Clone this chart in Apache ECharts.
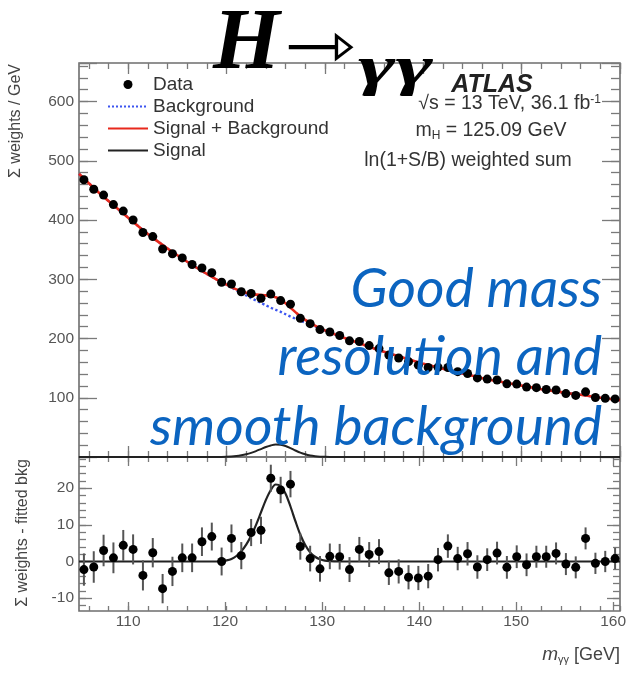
<!DOCTYPE html>
<html>
<head>
<meta charset="utf-8">
<script src="https://cdn.jsdelivr.net/npm/echarts@6/dist/echarts.min.js"></script>
<style>
html,body{margin:0;padding:0;background:#fff;}
#chart{width:629px;height:697px;}
</style>
</head>
<body>
<div id="chart"></div>
<script>
// ---------------- data ----------------
const binCenters = [105.5,106.5,107.5,108.5,109.5,110.5,111.5,112.5,113.5,114.5,
  115.5,116.5,117.5,118.5,119.5,120.5,121.5,122.5,123.5,124.5,
  125.5,126.5,127.5,128.5,129.5,130.5,131.5,132.5,133.5,134.5,
  135.5,136.5,137.5,138.5,139.5,140.5,141.5,142.5,143.5,144.5,
  145.5,146.5,147.5,148.5,149.5,150.5,151.5,152.5,153.5,154.5,
  155.5,156.5,157.5,158.5,159.5];

const dataWeights = [468,452,442,426,415,400,379,372,351,343,
  336,325,319,311,295,292,279,276,268,275,
  264,258,234,225,215,211,205,196,195,188,
  183,172,167,161,155,151,151.5,151,144,141,
  133.5,131.5,130,123.5,123,118,117,114,113,107,
  104,110,100.5,99,98];

const residuals = [-2.2,-1.5,3.0,1.0,4.4,3.3,-3.8,2.4,-7.4,-2.7,
  1.0,1.0,5.4,6.8,0.0,6.3,1.6,7.9,8.5,22.7,
  19.5,21.1,4.1,0.8,-2.0,1.4,1.3,-2.2,3.3,1.9,
  2.7,-3.1,-2.7,-4.3,-4.5,-4.0,0.5,4.2,0.8,2.1,
  -1.5,0.5,2.3,-1.6,1.3,-0.9,1.3,1.3,2.2,-0.7,
  -1.6,6.3,-0.5,0.0,0.8];

const residualErrors = [4.4,4.3,4.3,4.2,4.2,4.1,4.1,4.0,4.0,4.0,
  3.9,3.9,3.9,3.8,3.8,3.8,3.7,3.7,3.7,3.7,
  3.6,3.6,3.6,3.5,3.5,3.5,3.5,3.4,3.4,3.4,
  3.4,3.3,3.3,3.3,3.3,3.3,3.2,3.2,3.2,3.2,
  3.2,3.1,3.1,3.1,3.1,3.1,3.0,3.0,3.0,3.0,
  3.0,3.0,2.9,2.9,2.9];

const curveMass = [105,106,107,108,109,110,111,112,113,114,115,116,117,118,
  119,119.5,120,120.5,121,121.5,122,122.5,123,123.5,124,124.5,125,125.5,
  126,126.5,127,127.5,128,128.5,129,129.5,130,130.5,131,
  132,133,134,135,136,137,138,139,140,141,142,143,144,145,146,
  147,148,149,150,151,152,153,154,155,156,157,158,159,160];

const background = [478,462,446.5,432,418,404,390,376.5,364,352,340.5,329.5,319,309,
  299.5,295,290.5,286,281.5,277,272.5,268,264,260,256,252,248.5,245,
  241,237,233.5,230,227,224,220.5,217,213.5,210,207,
  201,195,189,183,177.5,172.5,167.5,162.5,157.5,153,149,145,141,137,133,
  129.5,126.5,123.5,120.5,117.5,114.5,112,109.5,107,105,102.5,100,98,96];

const signalPlusBackground = [478,462,446.5,432,418,404,390,376.5,364,352,340.5,329.5,319,309,
  299.5,295.1,290.8,286.7,283,279.8,277.1,275,274,273.4,272.8,271.5,269.5,265.6,
  259.5,252,244.5,237.3,231.5,226.5,221.8,217.6,213.75,210.1,207.05,
  201,195,189,183,177.5,172.5,167.5,162.5,157.5,153,149,145,141,137,133,
  129.5,126.5,123.5,120.5,117.5,114.5,112,109.5,107,105,102.5,100,98,96];

const signal = [0,0,0,0,0,0,0,0,0,0,0,0,0,0,
  0,0.1,0.3,0.7,1.5,2.8,4.6,7.0,10.0,13.4,16.8,19.5,21.0,20.6,
  18.5,15.0,11.0,7.3,4.5,2.5,1.3,0.6,0.25,0.1,0.05,
  0,0,0,0,0,0,0,0,0,0,0,0,0,0,0,
  0,0,0,0,0,0,0,0,0,0,0,0,0,0];

const legendNames = ['Data','Background','Signal + Background','Signal'];
const topYTicks = {min: 0, max: 665, major: 100, minor: 20, lastLabel: 600};
const bottomYTicks = {min: -13.5, max: 28.5, majorMin: -10, majorMax: 20, major: 10, minorMin: -12, minorMax: 28, minor: 2};
const xRange = {min: 105, max: 160, majorMin: 110, major: 10, minorMin: 106, minor: 2};

// ---------------- layout ----------------
const L = 79, W = 541;
const topT = 63, topH = 394;
const botT = 457, botH = 154;
const pxPerX = W / (xRange.max - xRange.min);
const pxPerYb = botH / (bottomYTicks.max - bottomYTicks.min);

const gray = '#6d6d6d';
const tickCol = '#7a7a7a';
const labelFont = {fontFamily: 'Liberation Sans', fontSize: 15.5, color: '#555'};

function grid(left, top, width, height, show) {
  return {left: left, top: top, width: width, height: height, show: !!show,
    borderColor: gray, borderWidth: 1.6, containLabel: false};
}
const majGridL = L + (xRange.majorMin - xRange.min) * pxPerX;
const minGridL = L + (xRange.minorMin - xRange.min) * pxPerX;
const bMajTop = botT + (bottomYTicks.max - bottomYTicks.majorMax) * pxPerYb;
const bMajH = (bottomYTicks.majorMax - bottomYTicks.majorMin) * pxPerYb;
const bMinTop = botT + (bottomYTicks.max - bottomYTicks.minorMax) * pxPerYb;
const bMinH = (bottomYTicks.minorMax - bottomYTicks.minorMin) * pxPerYb;

const grids = [
  grid(L, topT, W, topH, true),                 // 0 top main
  grid(L, botT, W, botH, true),                 // 1 bottom main
  grid(majGridL, topT, L + W - majGridL, topH), // 2 top x major ticks
  grid(minGridL, topT, L + W - minGridL, topH), // 3 top x minor ticks
  grid(majGridL, botT, L + W - majGridL, botH), // 4 bottom x major ticks
  grid(minGridL, botT, L + W - minGridL, botH), // 5 bottom x minor ticks
  grid(L, bMajTop, W, bMajH),                   // 6 bottom y major ticks
  grid(L, bMinTop, W, bMinH)                    // 7 bottom y minor ticks
];

function hiddenAxis(gi, min, max) {
  return {type: 'value', gridIndex: gi, min: min, max: max, show: false,
    axisLine: {onZero: false}};
}
function tickAxis(gi, position, min, max, interval, len, labels, formatter) {
  return {
    type: 'value', gridIndex: gi, position: position, min: min, max: max, interval: interval,
    axisLine: {show: false, onZero: false},
    splitLine: {show: false},
    axisTick: {show: true, inside: true, length: len, lineStyle: {color: tickCol, width: 1.3}},
    axisLabel: labels ? Object.assign({show: true, margin: position === 'bottom' ? 3 : 5,
      formatter: formatter || (v => String(v))}, labelFont) : {show: false}
  };
}

const xAxes = [
  hiddenAxis(0, xRange.min, xRange.max),                                   // 0
  hiddenAxis(1, xRange.min, xRange.max),                                   // 1
  tickAxis(2, 'bottom', xRange.majorMin, xRange.max, xRange.major, 11),    // 2
  tickAxis(2, 'top', xRange.majorMin, xRange.max, xRange.major, 11),       // 3
  tickAxis(3, 'bottom', xRange.minorMin, xRange.max, xRange.minor, 6),     // 4
  tickAxis(3, 'top', xRange.minorMin, xRange.max, xRange.minor, 6),        // 5
  tickAxis(4, 'bottom', xRange.majorMin, xRange.max, xRange.major, 9, true), // 6
  tickAxis(4, 'top', xRange.majorMin, xRange.max, xRange.major, 9),        // 7
  tickAxis(5, 'bottom', xRange.minorMin, xRange.max, xRange.minor, 5),     // 8
  tickAxis(5, 'top', xRange.minorMin, xRange.max, xRange.minor, 5),        // 9
  hiddenAxis(6, 0, 1),                                                     // 10
  hiddenAxis(7, 0, 1)                                                      // 11
];

const topLabelFmt = v => (v > 0 && v <= topYTicks.lastLabel && v % topYTicks.major === 0) ? String(v) : '';
const yAxes = [
  tickAxis(0, 'left', topYTicks.min, topYTicks.max, topYTicks.major, 18, true, topLabelFmt), // 0
  tickAxis(0, 'right', topYTicks.min, topYTicks.max, topYTicks.major, 18),  // 1
  tickAxis(0, 'left', topYTicks.min, topYTicks.max, topYTicks.minor, 9),    // 2
  tickAxis(0, 'right', topYTicks.min, topYTicks.max, topYTicks.minor, 9),   // 3
  hiddenAxis(1, bottomYTicks.min, bottomYTicks.max),                        // 4
  hiddenAxis(2, 0, 1), hiddenAxis(3, 0, 1), hiddenAxis(4, 0, 1), hiddenAxis(5, 0, 1), // 5-8
  tickAxis(6, 'left', bottomYTicks.majorMin, bottomYTicks.majorMax, bottomYTicks.major, 13, true), // 9
  tickAxis(6, 'right', bottomYTicks.majorMin, bottomYTicks.majorMax, bottomYTicks.major, 13),      // 10
  tickAxis(7, 'left', bottomYTicks.minorMin, bottomYTicks.minorMax, bottomYTicks.minor, 7),        // 11
  tickAxis(7, 'right', bottomYTicks.minorMin, bottomYTicks.minorMax, bottomYTicks.minor, 7)        // 12
];

const pairs = (xs, ys) => xs.map((x, i) => [x, ys[i]]);

const series = [
  {name: 'Background', type: 'line', xAxisIndex: 0, yAxisIndex: 0, data: pairs(curveMass, background),
    symbol: 'none', smooth: 0.3, z: 2, lineStyle: {color: '#3c55f0', width: 2.4, type: 'dotted'},
    itemStyle: {color: '#3c55f0'}},
  {name: 'Signal + Background', type: 'line', xAxisIndex: 0, yAxisIndex: 0, data: pairs(curveMass, signalPlusBackground),
    symbol: 'none', smooth: 0.3, z: 3, lineStyle: {color: '#e8291c', width: 2.6},
    itemStyle: {color: '#e8291c'}},
  {name: 'Signal', type: 'line', xAxisIndex: 0, yAxisIndex: 0, data: pairs(curveMass, signal),
    symbol: 'none', smooth: 0.3, z: 3, lineStyle: {color: '#222', width: 2}, itemStyle: {color: '#222'}},
  {name: 'Data', type: 'scatter', xAxisIndex: 0, yAxisIndex: 0, data: pairs(binCenters, dataWeights),
    symbol: 'circle', symbolSize: 9, z: 5, itemStyle: {color: '#000', opacity: 1}},
  // bottom panel
  {name: 'Signal fit', type: 'line', xAxisIndex: 1, yAxisIndex: 4, data: pairs(curveMass, signal),
    symbol: 'none', smooth: 0.3, z: 3, lineStyle: {color: '#222', width: 2.2}},
  {name: 'Residual errors', type: 'custom', xAxisIndex: 1, yAxisIndex: 4, z: 4, silent: true,
    data: binCenters.map((m, i) => [m, residuals[i] - residualErrors[i], residuals[i] + residualErrors[i]]),
    encode: {x: 0, y: [1, 2]},
    renderItem: function (params, api) {
      const lo = api.coord([api.value(0), api.value(1)]);
      const hi = api.coord([api.value(0), api.value(2)]);
      return {type: 'line', shape: {x1: lo[0], y1: lo[1], x2: hi[0], y2: hi[1]},
        style: {stroke: '#555', lineWidth: 2}};
    }},
  {name: 'Residuals', type: 'scatter', xAxisIndex: 1, yAxisIndex: 4, data: pairs(binCenters, residuals),
    symbol: 'circle', symbolSize: 9, z: 5, itemStyle: {color: '#000', opacity: 1}}
];

function txt(x, y, text, opt) {
  return Object.assign({type: 'text', x: x, y: y, z: 100, silent: true,
    style: Object.assign({text: text, fill: '#333', fontFamily: 'Liberation Sans', fontSize: 19.5,
      textAlign: 'left', textVerticalAlign: 'middle', align: 'left', verticalAlign: 'middle'}, opt.style || {})},
    opt.el || {});
}
function al(a) { return {textAlign: a, align: a}; }

const blue = '#0b64c0';
const blueFont = {fontFamily: 'Lato', fontStyle: 'italic', fontSize: 55, fill: blue};

const graphics = [
  // title
  txt(213, 46, 'H', {style: {fontFamily: 'Liberation Serif', fontStyle: 'italic', fontWeight: 'bold', fontSize: 86, fill: '#000'}}),
  txt(284, 51, '⇾', {style: {fontFamily: 'DejaVu Sans', fontSize: 66, fill: '#000'}, el: {scaleX: 1.3}}),
  txt(358, 70, 'γγ', {style: {fontFamily: 'Liberation Serif', fontStyle: 'italic', fontWeight: 'bold', fontSize: 90, fill: '#000'}, el: {scaleY: 0.6}}),
  // ATLAS block
  txt(492, 85, 'ATLAS', {style: Object.assign({fontStyle: 'italic', fontWeight: 'bold', fontSize: 25, fill: '#222'}, al('center'))}),
  txt(601, 104, '√s = 13 TeV, 36.1 fb{sup|-1}', {style: Object.assign({rich: {sup: {fontSize: 12, padding: [0, 0, 9, 0], fontFamily: 'Liberation Sans', fill: '#333'}}}, al('right'))}),
  txt(491, 131, 'm{sub|H} = 125.09 GeV', {style: Object.assign({rich: {sub: {fontSize: 12, padding: [9, 0, 0, 0], fontFamily: 'Liberation Sans', fill: '#333'}}}, al('center'))}),
  txt(468, 161, 'ln(1+S/B) weighted sum', {style: al('center')}),
  // axis titles
  txt(16, 121, 'Σ weights / GeV', {style: Object.assign({fontSize: 16, fill: '#444'}, al('center')), el: {rotation: Math.PI / 2}}),
  txt(23, 533, 'Σ weights - fitted bkg', {style: Object.assign({fontSize: 16, fill: '#444'}, al('center')), el: {rotation: Math.PI / 2}}),
  txt(620, 655, '{i|m}{s|γγ} [GeV]', {style: Object.assign({fontSize: 18, fill: '#444',
    rich: {i: {fontStyle: 'italic', fontSize: 19, fontFamily: 'Liberation Sans', fill: '#444'},
           s: {fontSize: 11, padding: [10, 0, 0, 0], fontFamily: 'Liberation Sans', fill: '#444'}}}, al('right'))}),
  // blue annotation
  txt(602, 289, 'Good mass', {style: Object.assign({}, blueFont, al('right'))}),
  txt(602, 357, 'resolution and', {style: Object.assign({}, blueFont, al('right'))}),
  txt(602, 427, 'smooth background', {style: Object.assign({}, blueFont, al('right'))})
];

const chart = echarts.init(document.getElementById('chart'), null, {renderer: 'canvas'});
chart.setOption({
  animation: false,
  backgroundColor: '#fff',
  grid: grids,
  xAxis: xAxes,
  yAxis: yAxes,
  legend: {
    orient: 'vertical', left: 102, top: 70, itemWidth: 40, itemHeight: 9, itemGap: 3,
    selectedMode: false,
    textStyle: {fontFamily: 'Liberation Sans', fontSize: 19, color: '#333'},
    data: [
      {name: legendNames[0], icon: 'circle'},
      {name: legendNames[1], itemStyle: {opacity: 0}},
      {name: legendNames[2], itemStyle: {opacity: 0}},
      {name: legendNames[3], itemStyle: {opacity: 0}}
    ]
  },
  series: series,
  graphic: graphics
});
</script>
</body>
</html>
